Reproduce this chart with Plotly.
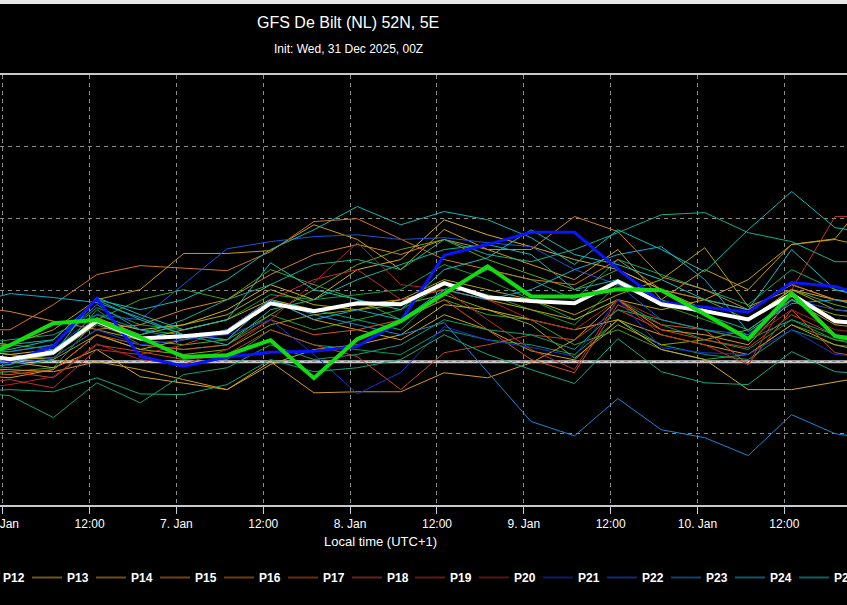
import plotly.graph_objects as go
import pandas as pd

# 6-hourly forecast steps, local time (UTC+1)
times = pd.date_range("2026-01-05 19:00", periods=22, freq="6h")

tick_times = pd.date_range("2026-01-06 00:00", "2026-01-10 12:00", freq="12h")
tick_labels = ["6. Jan", "12:00", "7. Jan", "12:00", "8. Jan", "12:00",
               "9. Jan", "12:00", "10. Jan", "12:00"]

# ensemble mean, control and operational run
mean_t = [0.25, 0.07, 0.26, 1.13, 0.65, 0.71, 0.82, 1.63, 1.41, 1.63, 1.60, 2.19, 1.80, 1.69, 1.63, 2.24, 1.60, 1.41, 1.18, 1.88, 1.13, 1.02]
control_t = [0.35, 0.01, 0.43, 1.77, 0.15, -0.13, 0.13, 0.26, 0.29, 0.43, 1.13, 2.97, 3.27, 3.61, 3.61, 2.58, 1.66, 1.52, 1.38, 2.21, 2.10, 1.74]
oper_t = [-0.03, 0.46, 1.07, 1.16, 0.68, 0.13, 0.18, 0.60, -0.46, 0.63, 1.13, 1.88, 2.66, 1.82, 1.82, 2.02, 1.99, 1.32, 0.63, 1.91, 0.71, 0.49]

# ensemble members
p01 = [0.47, 0.61, 0.75, 1.31, 0.89, 0.75, 0.61, 1.73, 1.45, 1.17, 0.89, 2.01, 2.57, 2.29, 1.73, 2.85, 2.43, 2.01, 1.59, 2.57, 2.01, 1.73]
p02 = [-0.08, -0.17, 0.06, 1.45, 0.61, 0.20, 0.06, 0.89, 0.47, 0.34, 0.20, 0.89, 0.61, 0.47, 0.20, 1.17, 0.47, 0.20, 0.06, 0.89, 0.47, 0.34]
p03 = [0.20, 0.28, 0.47, 1.51, 1.03, 0.89, 1.17, 1.87, 1.73, 1.87, 2.01, 2.71, 2.29, 1.73, 1.17, 1.73, 1.03, 0.61, 0.34, 1.17, 0.61, 0.34]
p04 = [-0.36, -0.28, -0.17, 1.17, 0.47, 0.34, 0.47, 1.31, 0.89, 1.17, 1.45, 2.15, 1.87, 1.45, 1.03, 2.15, 1.59, 1.17, 0.75, 1.73, 1.17, 0.89]
p05 = [0.61, 0.47, 0.34, 1.17, 1.73, 2.01, 1.73, 2.57, 2.15, 1.73, 1.17, 1.73, 1.31, 1.17, 0.47, 0.89, 0.34, 0.06, 0.20, 1.03, 0.61, 0.47]
p06 = [0.06, 0.00, 0.20, 1.03, 0.61, 0.47, 0.61, 1.31, 2.01, 2.71, 3.13, 3.41, 2.85, 2.43, 2.01, 2.57, 2.01, 1.73, 1.17, 2.01, 1.59, 1.31]
p07 = [0.34, 0.20, 0.06, 0.75, 0.34, 0.20, 0.34, 1.03, 1.31, 1.45, 1.59, 1.87, 1.45, 1.03, 0.10, 1.03, 0.47, 0.61, 0.89, 1.73, 1.31, 1.17]
p08 = [0.20, 0.11, 0.28, 1.23, 0.75, 1.03, 1.31, 2.01, 1.59, 1.45, 1.73, 2.29, 2.01, 1.73, 1.31, 1.87, 2.29, 3.18, 1.54, 2.01, 1.45, 1.31]
p09 = [0.00, 0.06, 0.11, 0.89, 0.61, 0.89, 1.17, 1.73, 1.45, 1.59, 1.73, 2.01, 1.73, 1.45, 1.17, 1.73, 1.45, 1.73, 2.29, 3.27, 3.43, 4.94]
p10 = [0.61, 0.47, 0.89, 1.73, 2.01, 3.02, 3.02, 3.10, 3.82, 3.41, 2.57, 3.69, 3.13, 2.71, 2.29, 3.13, 1.73, 2.57, 2.01, 3.27, 3.41, 3.13]
p11 = [-0.36, -0.45, -0.22, 0.75, 0.34, 0.61, 0.89, 1.73, 1.17, 0.89, 0.61, 1.31, 0.89, 0.30, 0.05, 1.17, 0.75, 0.47, 0.20, 1.03, 0.47, 0.20]
p12 = [0.34, 0.20, 0.34, 1.17, 0.89, 1.03, 1.45, 2.15, 1.73, 2.57, 2.85, 3.96, 3.54, 3.21, 2.85, 2.57, 2.01, 1.45, 1.17, 2.01, 1.73, 1.59]
p13 = [0.11, 0.00, -0.17, 0.34, -0.42, -0.59, -0.78, -0.08, 0.34, 0.47, 0.75, 1.59, 1.45, 1.17, 0.89, 1.17, 0.34, 0.06, -0.78, -0.78, -0.56, -0.36]
p14 = [-0.17, -0.22, -0.28, 0.00, -0.22, -0.50, -0.78, 0.00, -0.87, -0.84, -0.84, -0.31, -0.45, -0.03, 0.61, 1.73, 0.89, 0.75, 0.47, 1.73, 1.03, 0.89]
p15 = [1.55, 1.40, 1.13, 0.90, 1.03, 1.45, 1.73, 2.43, 2.99, 3.27, 2.99, 3.41, 3.13, 3.13, 4.05, 3.63, 2.37, 2.01, 1.45, 2.15, 1.73, 1.45]
p16 = [0.89, 0.89, 1.59, 2.43, 2.68, 2.60, 2.54, 3.07, 3.91, 3.99, 3.41, 2.85, 2.57, 2.29, 2.15, 2.85, 2.01, 1.73, 1.45, 2.15, 1.73, 1.59]
p17 = [-0.28, -0.36, -0.22, 0.75, 0.47, 0.34, 0.47, 1.17, 0.75, 0.89, 1.17, 1.73, 0.89, 0.06, -0.31, 1.59, 1.03, 0.89, -0.08, 1.45, 0.25, 0.06]
p18 = [-0.17, -0.28, -0.45, 0.47, 0.28, 0.06, 0.20, 0.89, 0.47, 0.14, -0.78, 0.25, 0.47, 0.75, 0.61, 1.45, 0.89, 0.61, 0.39, 1.31, 0.75, 0.61]
p19 = [-0.64, -0.50, -0.73, 0.34, 0.20, 0.47, 0.89, 1.73, 2.29, 2.57, 1.73, 2.01, 1.17, 0.34, -0.22, 1.73, 0.75, 0.47, -0.08, 2.01, 4.05, 4.05]
p20 = [-0.78, -0.64, -0.42, 0.50, 0.06, -0.08, 0.34, 1.17, 2.21, 3.32, 2.15, 2.01, 1.73, 1.17, 0.89, 1.73, 1.17, 0.89, 0.61, 1.45, 0.89, 0.75]
p21 = [0.06, -0.08, 0.11, 0.89, 0.47, 0.61, 0.75, 1.17, 0.20, -0.90, -0.30, 0.98, 0.60, 0.40, 0.15, 1.73, 0.39, 0.25, 0.20, 0.89, 0.20, 0.11]
p22 = [-0.08, 0.00, 0.34, 1.31, 1.17, 2.15, 3.15, 3.35, 3.49, 3.54, 3.41, 3.46, 3.32, 3.21, 2.57, 2.15, 1.17, 0.89, 0.75, 1.73, 1.45, 1.31]
p23 = [0.34, 0.28, 0.47, 1.59, 0.89, 0.61, 0.89, 1.73, 1.31, 1.03, 0.75, 1.09, -0.28, -1.67, -2.07, -1.03, -1.90, -2.12, -2.62, -1.48, -2.01, -2.18]
p24 = [1.59, 1.90, 1.79, 1.65, 1.23, 0.75, 0.61, 1.73, 1.17, 1.45, 1.17, 2.01, 1.73, 2.01, 2.57, 2.99, 3.21, 2.29, 0.84, 1.62, 1.73, 1.45]
p25 = [0.00, 0.06, 0.20, 1.79, 1.31, 0.89, 1.17, 2.76, 2.01, 1.73, 1.45, 2.57, 2.90, 3.68, 2.99, 2.71, 2.29, 1.73, 1.45, 3.13, 2.01, 1.73]
p26 = [0.20, 0.34, 0.61, 1.73, 1.45, 1.73, 2.29, 3.13, 3.68, 4.33, 3.82, 4.19, 3.96, 3.46, 2.71, 3.68, 3.13, 2.51, 3.68, 4.75, 3.74, 3.55]
p27 = [0.34, 0.47, 0.61, 1.73, 1.17, 0.75, 0.47, 1.45, 1.73, 2.29, 2.71, 3.13, 3.27, 2.99, 2.01, 2.29, 1.73, 1.31, 0.89, 1.73, 1.17, 1.03]
p28 = [-0.22, -0.08, 0.34, 1.17, 0.75, 1.17, 1.73, 2.15, 2.71, 2.85, 2.57, 3.41, 2.99, 2.79, 3.13, 3.60, 4.10, 4.16, 3.60, 3.35, 2.79, 2.79]
p29 = [-0.84, -0.78, -0.84, -0.45, -0.90, -0.92, -0.64, 0.06, -0.28, -0.17, 0.06, 0.75, 0.20, -0.22, -0.61, 0.64, -0.28, -0.59, -0.64, 0.28, -0.28, -0.36]
p30 = [-0.84, -0.95, -1.56, -0.59, -1.15, -0.36, -0.17, 0.47, 0.06, 0.20, 0.47, 1.17, 0.89, 0.75, 0.34, 1.45, 1.17, 0.89, 0.61, 1.17, 0.75, 0.61]

member_names = ["P%02d" % i for i in range(1, 31)]
member_colors = ["#00a878", "#00a060", "#10a040", "#20a030", "#40a020", "#60a818",
                 "#90a800", "#b0a800", "#c0a400", "#c8a000", "#cca010", "#d2ae26",
                 "#d2ab26", "#d2981c", "#d2851c", "#d2761c", "#d2551c", "#c84226",
                 "#c03030", "#b02424", "#1c30d2", "#1c55da", "#1c85d2", "#13abd2",
                 "#13bebe", "#10b8b0", "#10b4a0", "#10b090", "#10a880", "#10a070"]
members = [p01, p02, p03, p04, p05, p06, p07, p08, p09, p10, p11, p12, p13, p14, p15,
           p16, p17, p18, p19, p20, p21, p22, p23, p24, p25, p26, p27, p28, p29, p30]

FONT = "Liberation Sans, Arial, sans-serif"
W, H = 847, 605
TOP, BOTTOM = 75, 505   # plot area in pixels

fig = go.Figure()

for name, vals, col in zip(member_names, members, member_colors):
    fig.add_trace(go.Scatter(x=times, y=vals, mode="lines", name=name,
                             line=dict(color=col, width=1), showlegend=False))

fig.add_trace(go.Scatter(x=times, y=control_t, mode="lines", name="Control",
                         line=dict(color="#0a14ff", width=3), showlegend=False))
fig.add_trace(go.Scatter(x=times, y=mean_t, mode="lines", name="Mean",
                         line=dict(color="white", width=4), showlegend=False))
fig.add_trace(go.Scatter(x=times, y=oper_t, mode="lines", name="Oper",
                         line=dict(color="#10dc10", width=4), showlegend=False))

# legend entries (only the part of the row that is in view)
for i in range(11, 25):
    fig.add_trace(go.Scatter(x=[None], y=[None], mode="lines", name=member_names[i],
                             line=dict(color=member_colors[i], width=2), opacity=0.52,
                             legend="legend" if i < 18 else "legend2"))

def px_x(p):
    return p / W

def px_y(p):
    return (BOTTOM - p) / (BOTTOM - TOP)

grid = dict(showgrid=True, gridcolor="#8c8c8c", gridwidth=1, griddash="4px,4px")

fig.update_xaxes(type="date", range=["2026-01-05 23:37:36", "2026-01-10 20:39:00"],
                 tickvals=tick_times, ticktext=tick_labels, ticks="outside", ticklen=7,
                 tickcolor="#c0d0e0", tickfont=dict(size=12, color="white", family=FONT),
                 ticklabeloverflow="allow",
                 showline=True, linecolor="#c8c8c8", linewidth=2, mirror=True,
                 zeroline=False, **grid)
fig.update_yaxes(range=[-4, 8], tick0=0, dtick=2, showticklabels=False, showline=False,
                 zeroline=False, **grid)

leg = dict(orientation="h", xanchor="left", yanchor="top", y=px_y(563),
           entrywidth=19, bgcolor="rgba(0,0,0,0)", borderwidth=0,
           font=dict(size=12, color="white", family=FONT, weight="bold"))

def label(text, x, y, size):
    return dict(text=text, x=px_x(x), y=px_y(y), xref="paper", yref="paper",
                xanchor="center", yanchor="middle", showarrow=False,
                font=dict(size=size, color="white"))

fig.update_layout(
    width=W, height=H,
    paper_bgcolor="black", plot_bgcolor="black",
    margin=dict(l=0, r=0, t=TOP, b=H - BOTTOM, pad=0, autoexpand=False),
    font=dict(family=FONT, color="white", size=12),
    showlegend=True,
    legend=dict(leg, x=px_x(-37)),
    legend2=dict(leg, x=px_x(410)),
    shapes=[
        dict(type="line", xref="paper", yref="y", x0=0, x1=1, y0=0, y1=0,
             line=dict(color="#c8c8c8", width=3), layer="below"),
        dict(type="line", xref="paper", yref="paper", x0=0, x1=1,
             y0=px_y(2), y1=px_y(2), line=dict(color="#e8e8e8", width=4)),
    ],
    annotations=[
        label("GFS De Bilt (NL) 52N, 5E", 348, 22, 16),
        label("Init: Wed, 31 Dec 2025, 00Z", 348, 49, 12),
        label("Local time (UTC+1)", 380, 541, 13),
    ],
)

fig.write_html("out.html", config={"displayModeBar": False},
               post_script="document.body.style.margin='0';"
                           "document.body.style.background='black';")
